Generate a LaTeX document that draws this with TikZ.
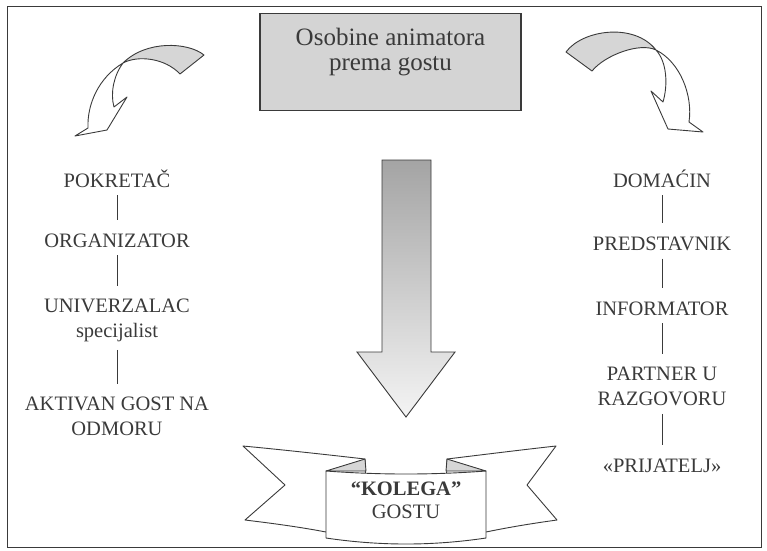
\documentclass[tikz,border=0pt]{standalone}
\usepackage{fontspec}
\setmainfont{Liberation Serif}
\definecolor{InkGray}{HTML}{3A3A3A}
\definecolor{BoxGray}{HTML}{D4D4D4}
\definecolor{FoldGray}{HTML}{D6D6D6}
\definecolor{ShaftTop}{HTML}{A4A4A4}
\definecolor{ShaftBottom}{HTML}{F4F4F4}

\begin{document}
\begin{tikzpicture}[x=1pt,y=-1pt,
  frame/.style={draw=InkGray,line width=1pt},
  titlebox/.style={draw=InkGray,fill=BoxGray,line width=1.1pt,minimum width=261pt,minimum height=97pt,inner sep=0pt},
  titletext/.style={font=\fontsize{25}{25}\selectfont,text=InkGray,align=center},
  role/.style={font=\fontsize{20.5}{25}\selectfont,text=InkGray,align=center,inner sep=2pt},
  link/.style={draw=InkGray,line width=0.9pt,shorten <=6pt,shorten >=11pt},
  outline/.style={draw=InkGray,line width=0.9pt,line join=round},
  badge/.style={font=\fontsize{20.5}{23}\selectfont,text=InkGray,align=center},
]
\useasboundingbox (0,0) rectangle (767,550);
\draw[frame] (7,6) rectangle (761,547);

% title
\node[titlebox] (title) at (390.5,62) {};
\node[titletext] at ([yshift=10pt]title.center) {Osobine animatora\\prema gostu};

% curved arrows
\fill[FoldGray] (204,55) .. controls (188,42) and (146,40) .. (123,63)
  .. controls (138,55) and (165,58) .. (180,74) -- cycle;
\draw[outline] (204,55) .. controls (188,42) and (146,40) .. (123,63)
  .. controls (114,75) and (110,93) .. (114,107) -- (127,97) -- (107,130) -- (75,136) -- (88,128)
  .. controls (87,105) and (98,78) .. (123,63)
  .. controls (138,55) and (165,58) .. (180,74) -- cycle;
\fill[FoldGray] (566,52) .. controls (582,30) and (634,22) .. (656,50)
  .. controls (640,42) and (605,55) .. (592,71) -- cycle;
\draw[outline] (566,52) .. controls (582,30) and (634,22) .. (656,50)
  .. controls (680,62) and (693,95) .. (689,122) -- (703,132) -- (668,129) -- (651,91) -- (663,102)
  .. controls (668,85) and (667,62) .. (656,50)
  .. controls (640,42) and (605,55) .. (592,71) -- cycle;

% big arrow
\shadedraw[top color=ShaftTop,bottom color=ShaftBottom,draw=InkGray,line width=0.9pt]
  (382,160) -- (431,160) -- (431,352) -- (455,352) -- (406,417) -- (357,352) -- (382,352) -- cycle;

% left column
\node[role,anchor=base] (pok) at (117,187) {POKRETAČ};
\node[role,anchor=base] (org) at (117,247) {ORGANIZATOR};
\node[role,anchor=north] (univ) at (117,296.6) {UNIVERZALAC\\specijalist};
\node[role,anchor=north] (akt) at (117,394.6) {AKTIVAN GOST NA\\ODMORU};
\draw[link] (pok) -- (org);
\draw[link] (org) -- (univ);
\draw[link] (univ) -- (akt);

% right column
\node[role,anchor=base] (dom) at (662,187) {DOMAĆIN};
\node[role,anchor=base] (pred) at (662,250) {PREDSTAVNIK};
\node[role,anchor=base] (inf) at (662,315) {INFORMATOR};
\node[role,anchor=north] (part) at (662,364.6) {PARTNER U\\RAZGOVORU};
\node[role,anchor=base] (prij) at (662,472) {«PRIJATELJ»};
\draw[link] (dom) -- (pred);
\draw[link] (pred) -- (inf);
\draw[link] (inf) -- (part);
\draw[link] (part) -- (prij);

% ribbon
\draw[outline,fill=white] (243,446) .. controls (285,450) and (330,455) .. (365,459) -- (366,500) -- (326,532)
  .. controls (300,527) and (270,523) .. (245,520) -- (285,485) -- cycle;
\draw[outline,fill=white] (556,446) .. controls (520,450) and (480,455) .. (447,459) -- (446,500) -- (486,532)
  .. controls (510,527) and (535,523) .. (557,520) -- (527,485) -- cycle;
\draw[outline,fill=FoldGray] (326,471) -- (365,459) -- (366,471) -- cycle;
\draw[outline,fill=FoldGray] (486,471) -- (447,459) -- (446,471) -- cycle;
\draw[outline,fill=white] (326,471) .. controls (380,475) and (432,475) .. (486,471) -- (486,538)
  .. controls (432,546) and (380,546) .. (326,538) -- cycle;
\node[badge] (kolega) at (406,500) {\textbf{“KOLEGA”}\\GOSTU};
\end{tikzpicture}
\end{document}
